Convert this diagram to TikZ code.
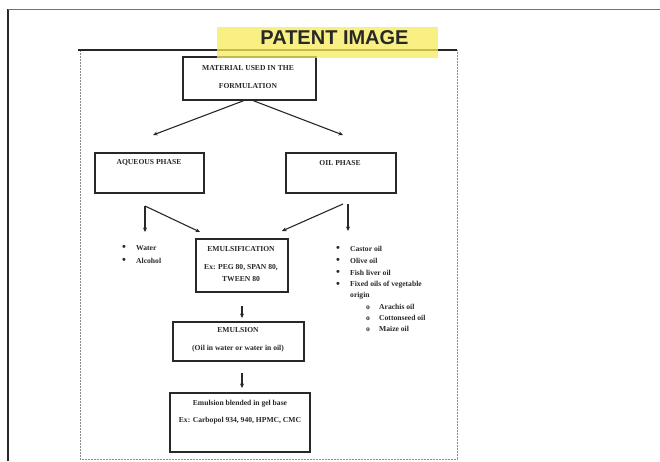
\documentclass[tikz,border=0pt]{standalone}
\usepackage{fontspec}
\setmainfont{Liberation Serif}
\newfontfamily\titlefont{Liberation Sans}
\usetikzlibrary{arrows.meta}
\definecolor{hilite}{RGB}{247,236,92}
\definecolor{ink}{RGB}{40,40,40}
\newcommand{\blt}{\makebox[14pt][l]{\raisebox{-0.4pt}{\fontsize{11}{11}\selectfont\textbullet}}}
\newcommand{\subblt}{\makebox[13pt][l]{o}}
\begin{document}
\begin{tikzpicture}[x=1pt,y=-1pt,
  box/.style={draw=ink, line width=1.5pt, rectangle, inner sep=0pt},
  txt/.style={font=\fontsize{7.6}{12}\selectfont\bfseries, align=center, inner sep=0pt, text=ink},
  item/.style={font=\fontsize{7.6}{12}\selectfont\bfseries, anchor=west, inner sep=0pt, text=ink},
  flow/.style={draw=ink, line width=1.1pt, -{Stealth[length=4.5pt,width=4pt]}}]

% page
\fill[white] (0,0) rectangle (660,461);
\useasboundingbox (0,0) rectangle (660,461);

% outer page frame
\draw[ink, line width=1.4pt] (8,461) -- (8,9);
\draw[black!55, line width=0.9pt] (8,9) -- (660,9);

% inner figure frame
\draw[black!45, line width=0.8pt, dash pattern=on 2pt off 1pt] (80,50) -- (80,459) -- (457,459) -- (457,50);
\draw[black!85, line width=1.8pt] (78,50) -- (457,50);

% boxes
\node[box, minimum width=133pt, minimum height=43pt] (mat) at (249.5,78.5) {};
\node[txt] (matT) at (248,77) {MATERIAL USED IN THE\\[6pt]FORMULATION};

\node[box, minimum width=109pt, minimum height=40pt] (aq) at (149.5,173) {};
\node[txt] (aqT) at (149,163) {AQUEOUS PHASE};

\node[box, minimum width=110pt, minimum height=40pt] (oil) at (341,173) {};
\node[txt] (oilT) at (340,163) {OIL PHASE};

\node[box, minimum width=92pt, minimum height=53pt] (emu) at (242,265.5) {};
\node[txt] (emuT) at (241,264) {EMULSIFICATION\\[6pt]Ex: PEG 80, SPAN 80,\\TWEEN 80};

\node[box, minimum width=131pt, minimum height=39pt] (ems) at (238.5,341.5) {};
\node[txt] (emsT) at (238,340) {EMULSION\\[6pt](Oil in water or water in oil)};

\node[box, minimum width=140pt, minimum height=59pt] (gel) at (240,422.5) {};
\node[txt] (gelT) at (240,412.5) {Emulsion blended in gel base\\[5pt]Ex: Carbopol 934, 940, HPMC, CMC};

% arrow ends
\coordinate (m1) at ([xshift=-6pt]mat.south);
\coordinate (m2) at ([xshift=4pt]mat.south);
\coordinate (aqEnd) at (153,135);
\coordinate (oilEnd) at (343,135);
\coordinate (aqS) at (145,206);
\coordinate (waterEnd) at (145,232);
\coordinate (emuInL) at (200,232);
\coordinate (oilS1) at (343,204);
\coordinate (oilS2) at (348,204);
\coordinate (emuInR) at (282,231);
\coordinate (oilsEnd) at (348,231);
\coordinate (d1a) at (242,306);
\coordinate (d1b) at (242,318);
\coordinate (d2a) at (242,373);
\coordinate (d2b) at (242,388);

% connectors
\draw[flow] (m1) -- (aqEnd);
\draw[flow] (m2) -- (oilEnd);
\draw[flow] (aqS) -- (waterEnd);
\draw[flow] (aqS) -- (emuInL);
\draw[flow] (oilS1) -- (emuInR);
\draw[flow] (oilS2) -- (oilsEnd);
\draw[flow] (d1a) -- (d1b);
\draw[flow] (d2a) -- (d2b);

% aqueous ingredients
\node[item] (water) at (122,248) {\blt Water};
\node[item] (alcohol) at (122,261) {\blt Alcohol};

% oil ingredients
\node[item] (castor) at (336,249) {\blt Castor oil};
\node[item] (olive) at (336,261) {\blt Olive oil};
\node[item] (fish) at (336,273) {\blt Fish liver oil};
\node[item] (fixed) at (336,285) {\blt Fixed oils of vegetable};
\node[item] (origin) at (350,296) {origin};
\node[item] (arachis) at (366,307) {\subblt Arachis oil};
\node[item] (cotton) at (366,318) {\subblt Cottonseed oil};
\node[item] (maize) at (366,329) {\subblt Maize oil};

% highlighted heading
\fill[hilite, opacity=0.75] (217,27) rectangle (438,58);
\node[font=\titlefont\bfseries\fontsize{20}{20}\selectfont, text=ink, inner sep=0pt] (title) at (334.5,37.5) {PATENT IMAGE};
\end{tikzpicture}
\end{document}
